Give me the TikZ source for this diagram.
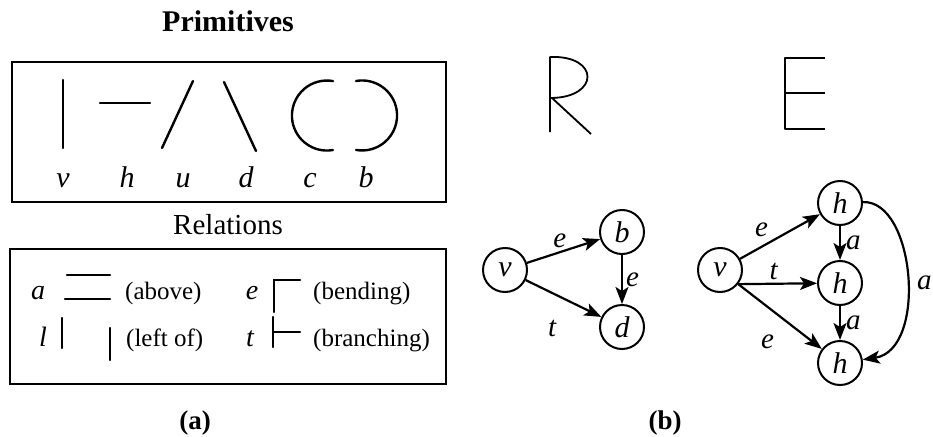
\documentclass[tikz,border=0pt]{standalone}
\usepackage{fontspec}
\setmainfont{Liberation Serif}
\usetikzlibrary{arrows.meta}
\begin{document}
\begin{tikzpicture}[x=1pt,y=-1pt,
   box/.style={draw,line width=2pt},
   stroke/.style={line width=2.4pt,line cap=round},
   pen/.style={line width=1.8pt,line join=round},
   lbl/.style={font=\fontsize{30}{30}\selectfont\itshape,anchor=base,inner sep=0pt},
   rel/.style={font=\fontsize{25}{25}\selectfont,anchor=base west,inner sep=0pt},
   state/.style={circle,draw,line width=2pt,minimum size=44pt,inner sep=0pt,font=\fontsize{30}{30}\selectfont\itshape},
   elbl/.style={font=\fontsize{29}{29}\selectfont\itshape,inner sep=3pt},
   edge/.style={-{Stealth[length=17pt,width=13pt,inset=4pt]},line width=2.2pt},
   caption/.style={font=\fontsize{27}{27}\selectfont\bfseries}]
\useasboundingbox (0,0) rectangle (933,436);

\node[font=\fontsize{30}{30}\selectfont\bfseries,anchor=base] (Title) at (228,32) {Primitives};
\draw[box] (12,62) rectangle (446,202);
\draw[stroke] (63,80) -- (63,148);
\draw[stroke] (100,103) -- (150,103);
\draw[stroke] (162,148) -- (193,81);
\draw[stroke] (224,82) -- (256,151);
\draw[stroke] (333,150) arc[start angle=80,end angle=280,radius=35];
\draw[stroke] (356,81) arc[start angle=-100,end angle=100,radius=35];
\foreach \l/\x [count=\n] in {v/63,h/127,u/183,d/246,c/310,b/366}
   \node[lbl] (P\n) at (\x,187) {\l};

\node[font=\fontsize{29}{29}\selectfont,anchor=base] (RelHead) at (228,234) {Relations};
\draw[box] (10,249) rectangle (446,384);
\foreach \l/\x/\y [count=\n] in {a/38/299,l/43/346,e/252/299,t/250/346}
   \node[lbl,font=\fontsize{28}{28}\selectfont\itshape] (R\n) at (\x,\y) {\l};
\draw[stroke] (67,275) -- (110,275);
\draw[stroke] (65,299) -- (110,299);
\draw[stroke] (62,318) -- (62,348);
\draw[stroke] (110,328) -- (110,360);
\draw[stroke] (274,312) -- (274,280) -- (300,280);
\draw[stroke] (273,317) -- (273,347);
\draw[stroke] (273,332) -- (300,332);
\node[rel] (Above) at (125,299) {(above)};
\node[rel] (LeftOf) at (126,346) {(left of)};
\node[rel] (Bending) at (313,299) {(bending)};
\node[rel] (Branching) at (313,346) {(branching)};
\node[caption] (CaptA) at (195,423) {(a)};

\draw[pen] (550,132) -- (550,57) .. controls (600,55) and (600,98) .. (550,98);
\draw[pen] (552,98) -- (591,134);
\draw[pen] (825,58) -- (785,58) -- (785,129) -- (825,129);
\draw[pen] (785,93) -- (825,93);

\node[state] (V1) at (505,270) {v};
\node[state] (B1) at (622,232) {b};
\node[state] (D1) at (622,327) {d};
\draw[edge] (V1) -- node[elbl,above,pos=.45] {e} (B1);
\draw[edge] (V1) -- node[elbl,pos=.35,yshift=-36pt] {t} (D1);
\draw[edge] (B1) -- node[elbl,right] {e} (D1);

\node[state] (V2) at (720,270) {v};
\node[state] (H1) at (840,203) {h};
\node[state] (H2) at (840,283) {h};
\node[state] (H3) at (840,363) {h};
\draw[edge] (V2) -- node[elbl,above left,pos=.4] {e} (H1);
\draw[edge] (V2.-38) -- node[elbl,above,pos=.45] {t} (H2);
\draw[edge] (V2) -- node[elbl,pos=.4,yshift=-32pt,xshift=-4pt] {e} (H3);
\draw[edge] (H1) -- node[elbl,right,inner sep=5pt] {a} (H2);
\draw[edge] (H2) -- node[elbl,right,inner sep=5pt] {a} (H3);
\draw[edge] (H1) .. controls (915,200) and (928,350) .. (H3);
\node[elbl,anchor=west,inner sep=0pt] (CurveA) at (917,283) {a};
\node[caption] (CaptB) at (665,423) {(b)};
\end{tikzpicture}
\end{document}
